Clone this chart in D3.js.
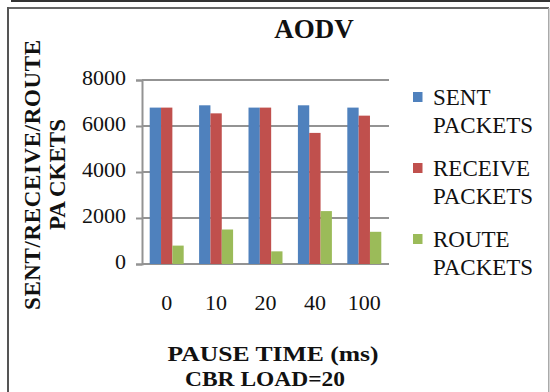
<!DOCTYPE html>
<html>
<head>
<meta charset="utf-8">
<script src="https://cdn.jsdelivr.net/npm/d3@7"></script>
<style>
  body { margin: 0; background: #fff; }
  svg { display: block; }
  text { font-family: "Liberation Serif", "Times New Roman", serif; fill: #111; }
</style>
</head>
<body>
<script>
// AODV packet counts per pause time (CBR load = 20)
const pauseTimes = ["0", "10", "20", "40", "100"];
const seriesNames = ["SENT PACKETS", "RECEIVE PACKETS", "ROUTE PACKETS"];
const sentPackets = [6800, 6900, 6800, 6900, 6800];
const receivePackets = [6800, 6550, 6800, 5700, 6450];
const routePackets = [800, 1500, 550, 2300, 1400];
const yTicks = [0, 2000, 4000, 6000, 8000];
const seriesColors = ["#4F81BD", "#C0504D", "#9BBB59"];

const seriesValues = [sentPackets, receivePackets, routePackets];
const rows = pauseTimes.map((t, i) => ({
  time: t,
  values: seriesNames.map((name, s) => ({ name, s, value: seriesValues[s][i] }))
}));

const W = 550, H = 392;
const plot = { left: 142, right: 389, top: 80, bottom: 264 };

const svg = d3.select("body").append("svg").attr("width", W).attr("height", H);

// outer frame
svg.append("rect").attr("x", 11).attr("y", 0).attr("width", 539).attr("height", 2).attr("fill", "#333");
svg.append("rect").attr("x", 8).attr("y", 7).attr("width", 541).attr("height", 2).attr("fill", "#666");
svg.append("rect").attr("x", 7).attr("y", 7).attr("width", 2).attr("height", H - 7).attr("fill", "#555");
svg.append("rect").attr("x", 548).attr("y", 8).attr("width", 1.5).attr("height", H - 8).attr("fill", "#aaa");

const y = d3.scaleLinear().domain([0, 8000]).range([plot.bottom, plot.top]);
const x0 = d3.scaleBand().domain(pauseTimes).range([plot.left, plot.right])
  .paddingInner(0.312).paddingOuter(0.156);
const x1 = d3.scaleBand().domain(seriesNames).range([0, x0.bandwidth()]).padding(0);

// gridlines
svg.append("g").selectAll("line").data(yTicks).join("line")
  .attr("x1", plot.left).attr("x2", plot.right)
  .attr("y1", d => y(d)).attr("y2", d => y(d))
  .attr("stroke", "#939393").attr("stroke-width", 2);

// y axis
const yAxis = svg.append("g").attr("transform", `translate(${plot.left},0)`)
  .call(d3.axisLeft(y).tickValues(yTicks).tickSize(6).tickPadding(10).tickFormat(d3.format("d")));
yAxis.select(".domain").attr("stroke", "#939393").attr("stroke-width", 2);
yAxis.selectAll(".tick line").attr("stroke", "#939393").attr("stroke-width", 2);
yAxis.selectAll(".tick text")
  .attr("font-size", 22).attr("font-family", "Liberation Serif, serif")
  .attr("fill", "#1c1c28").attr("dy", "0.22em");

// bars
svg.append("g").selectAll("g").data(rows).join("g")
  .attr("transform", d => `translate(${x0(d.time)},0)`)
  .selectAll("rect").data(d => d.values).join("rect")
  .attr("x", d => x1(d.name))
  .attr("width", x1.bandwidth())
  .attr("y", d => y(d.value))
  .attr("height", d => y(0) - y(d.value))
  .attr("fill", d => seriesColors[d.s]);

// x axis labels
const xAxis = svg.append("g").attr("transform", `translate(0,${plot.bottom})`)
  .call(d3.axisBottom(x0).tickSize(0).tickPadding(30));
xAxis.select(".domain").remove();
xAxis.selectAll(".tick text")
  .attr("font-size", 22).attr("font-family", "Liberation Serif, serif")
  .attr("fill", "#1c1c28");

// title
svg.append("text").attr("x", 314).attr("y", 38).attr("text-anchor", "middle")
  .attr("font-size", 27).attr("font-weight", "bold").text("AODV");

// x axis title (two lines)
svg.append("text").attr("x", 273).attr("y", 361).attr("text-anchor", "middle")
  .attr("font-size", 22).attr("font-weight", "bold")
  .attr("textLength", 211).attr("lengthAdjust", "spacingAndGlyphs")
  .text("PAUSE TIME (ms)");
svg.append("text").attr("x", 265).attr("y", 386).attr("text-anchor", "middle")
  .attr("font-size", 22).attr("font-weight", "bold")
  .attr("textLength", 160).attr("lengthAdjust", "spacingAndGlyphs")
  .text("CBR LOAD=20");

// y axis title
const yTitle = svg.append("g").attr("transform", "rotate(-90)");
yTitle.append("text").attr("x", -310).attr("y", 40)
  .attr("font-size", 23).attr("font-weight", "bold")
  .attr("textLength", 270).attr("lengthAdjust", "spacing")
  .text("SENT/RECEIVE/ROUTE");
const t2 = yTitle.append("text").attr("x", -230).attr("y", 65)
  .attr("font-size", 23).attr("font-weight", "bold");
t2.append("tspan").text("PA");
t2.append("tspan").attr("dx", 4).text("CKETS");

// legend
const legend = svg.append("g");
const legendBase = [105, 176, 247];
seriesNames.forEach((name, s) => {
  const b = legendBase[s];
  legend.append("rect").attr("x", 413).attr("y", b - 13).attr("width", 9.5).attr("height", 10)
    .attr("fill", seriesColors[s]);
  const parts = name.split(" ");
  parts.forEach((p, i) => {
    legend.append("text").attr("x", 433).attr("y", b + i * 28)
      .attr("font-size", 23).text(p);
  });
});
</script>
</body>
</html>
